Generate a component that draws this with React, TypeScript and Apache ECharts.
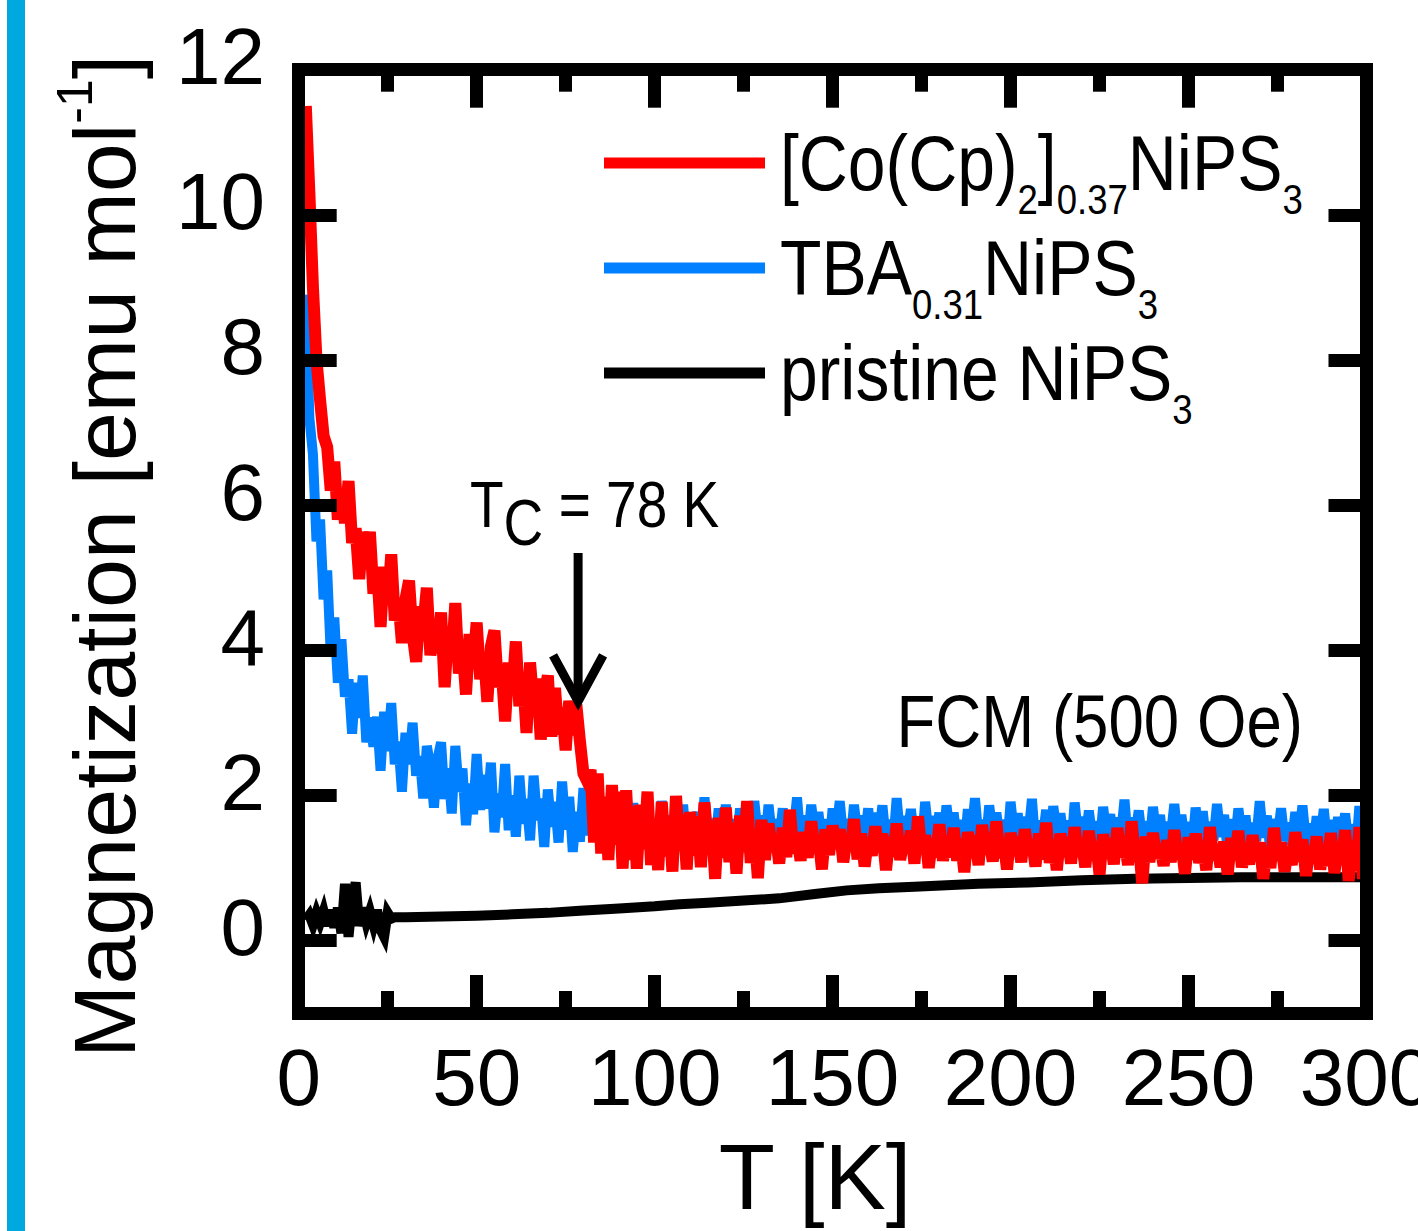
import React, { useEffect, useRef } from "react";
import * as echarts from "echarts";

// Temperature sweep shared by the two intercalated samples (K)
const tempK = [
  2, 3, 4, 5, 6, 7, 8, 9, 10, 11,
  12, 13, 14, 15, 16, 17, 18, 19, 20, 21,
  22, 23, 24, 25, 26, 27, 28, 29, 30, 31,
  32, 33, 34, 35, 36, 37, 38, 39, 40, 41,
  42, 43, 44, 45, 46, 47, 48, 49, 50, 51,
  52, 53, 54, 55, 56, 57, 58, 59, 60, 61,
  62, 63, 64, 65, 66, 67, 68, 69, 70, 71,
  72, 73, 74, 75, 76, 77, 78, 79, 80, 81,
  82, 83, 84, 85, 86, 87, 88, 89, 90, 91,
  92, 93, 94, 95, 96, 97, 98, 99, 100, 101,
  102, 103, 104, 105, 106, 107, 108, 109, 110, 111,
  112, 113, 114, 115, 116, 117, 118, 119, 120, 121,
  122, 123, 124, 125, 126, 127, 128, 129, 130, 131,
  132, 133, 134, 135, 136, 137, 138, 139, 140, 141,
  142, 143, 144, 145, 146, 147, 148, 149, 150, 151,
  152, 153, 154, 155, 156, 157, 158, 159, 160, 161,
  162, 163, 164, 165, 166, 167, 168, 169, 170, 171,
  172, 173, 174, 175, 176, 177, 178, 179, 180, 181,
  182, 183, 184, 185, 186, 187, 188, 189, 190, 191,
  192, 193, 194, 195, 196, 197, 198, 199, 200, 201,
  202, 203, 204, 205, 206, 207, 208, 209, 210, 211,
  212, 213, 214, 215, 216, 217, 218, 219, 220, 221,
  222, 223, 224, 225, 226, 227, 228, 229, 230, 231,
  232, 233, 234, 235, 236, 237, 238, 239, 240, 241,
  242, 243, 244, 245, 246, 247, 248, 249, 250, 251,
  252, 253, 254, 255, 256, 257, 258, 259, 260, 261,
  262, 263, 264, 265, 266, 267, 268, 269, 270, 271,
  272, 273, 274, 275, 276, 277, 278, 279, 280, 281,
  282, 283, 284, 285, 286, 287, 288, 289, 290, 291,
  292, 293, 294, 295, 296, 297, 298, 299, 300,
];

// [Co(Cp)2]0.37NiPS3, emu/mol
const magCoCp = [
  11.5, 10.3, 9.0, 8.0, 7.45, 6.95, 6.8, 6.2, 6.6, 5.8,
  6.2, 5.75, 6.33, 5.48, 5.68, 4.98, 5.63, 5.18, 5.63, 4.78,
  5.15, 4.32, 5.15, 4.63, 5.32, 4.41, 4.7, 4.1, 4.7, 4.96,
  4.22, 3.84, 4.6, 4.35, 4.86, 3.93, 4.34, 3.96, 4.52, 3.49,
  4.26, 3.88, 4.65, 3.68, 4.06, 3.39, 4.22, 3.8, 4.38, 3.6,
  3.97, 3.29, 4.05, 4.27, 3.49, 3.75, 3.02, 3.83, 3.4, 4.12,
  3.23, 3.65, 2.86, 3.83, 3.24, 3.61, 2.77, 3.39, 3.65, 2.81,
  3.48, 2.84, 3.21, 2.62, 3.3, 2.83, 3.25, 2.75, 2.3, 2.2,
  2.35, 1.35, 2.3, 1.2, 1.98, 1.11, 2.14, 1.32, 2.05, 0.99,
  2.07, 1.11, 1.85, 0.99, 1.87, 1.26, 2.05, 1.04, 1.63, 0.97,
  1.91, 1.16, 1.7, 0.95, 1.99, 1.29, 1.74, 0.98, 1.77, 1.17,
  1.71, 1.01, 1.9, 1.25, 1.65, 0.85, 1.69, 1.14, 1.83, 1.08,
  1.62, 0.92, 1.72, 1.22, 1.92, 1.07, 1.52, 0.86, 1.66, 1.11,
  1.61, 1.26, 1.46, 1.06, 1.55, 1.15, 1.8, 1.2, 1.45, 1.1,
  1.49, 1.14, 1.64, 1.24, 1.43, 0.98, 1.53, 1.18, 1.58, 1.28,
  1.53, 1.08, 1.43, 1.23, 1.67, 1.12, 1.47, 1.02, 1.42, 1.17,
  1.57, 1.22, 1.47, 0.97, 1.42, 1.16, 1.61, 1.11, 1.41, 1.21,
  1.51, 1.06, 1.71, 1.21, 1.45, 1.0, 1.4, 1.15, 1.6, 1.1,
  1.4, 1.15, 1.55, 1.1, 1.4, 0.94, 1.49, 1.19, 1.44, 1.04,
  1.59, 1.19, 1.39, 1.09, 1.64, 1.14, 1.38, 0.98, 1.48, 1.18,
  1.43, 1.08, 1.53, 1.18, 1.38, 1.02, 1.47, 1.12, 1.62, 1.07,
  1.37, 0.97, 1.47, 1.17, 1.42, 1.06, 1.56, 1.16, 1.36, 1.01,
  1.51, 1.11, 1.36, 0.91, 1.46, 1.15, 1.4, 1.05, 1.55, 1.15,
  1.39, 1.04, 1.64, 1.14, 1.34, 0.79, 1.43, 1.08, 1.48, 1.13,
  1.33, 1.03, 1.38, 1.08, 1.52, 1.12, 1.32, 0.92, 1.42, 1.12,
  1.47, 1.07, 1.32, 0.97, 1.56, 1.11, 1.31, 1.01, 1.36, 0.91,
  1.41, 1.11, 1.51, 1.01, 1.3, 1.05, 1.45, 1.1, 1.35, 0.85,
  1.3, 1.0, 1.55, 1.1, 1.35, 0.95, 1.29, 1.04, 1.49, 1.09,
  1.39, 0.89, 1.29, 1.08, 1.43, 0.98, 1.33, 1.03, 1.48, 0.93,
  1.32, 1.07, 1.52, 0.82, 1.37, 0.96, 1.56, 0.85, 1.25,
];

// TBA0.31NiPS3, emu/mol
const magTBA = [
  8.9, 7.2, 6.7, 5.5, 5.8, 4.7, 5.1, 3.95, 4.45, 3.55,
  4.15, 3.36, 3.6, 2.85, 3.55, 3.07, 3.65, 2.73, 3.07, 2.67,
  3.08, 2.34, 3.15, 2.61, 3.27, 2.43, 2.74, 2.05, 2.86, 2.43,
  3.0, 2.27, 2.54, 1.96, 2.68, 2.4, 1.83, 2.5, 2.73, 1.95,
  2.37, 1.75, 2.68, 2.05, 2.37, 1.59, 2.16, 1.74, 2.57, 1.8,
  2.28, 1.82, 2.45, 1.49, 2.02, 1.7, 2.43, 1.52, 2.0, 1.43,
  2.27, 1.61, 1.95, 1.38, 2.27, 1.66, 1.95, 1.29, 2.08, 1.57,
  1.91, 1.35, 2.19, 1.53, 1.98, 1.22, 1.77, 1.36, 2.1, 1.45,
  1.94, 1.49, 1.73, 1.33, 1.82, 1.52, 1.96, 1.41, 1.7, 1.35,
  1.8, 1.4, 1.89, 1.49, 1.74, 1.29, 1.83, 1.43, 1.67, 1.37,
  1.92, 1.47, 1.72, 1.32, 1.77, 1.42, 1.87, 1.27, 1.67, 1.47,
  1.77, 1.37, 1.97, 1.47, 1.67, 1.32, 1.82, 1.42, 1.87, 1.37,
  1.67, 1.27, 1.82, 1.47, 1.77, 1.42, 1.92, 1.47, 1.72, 1.32,
  1.87, 1.42, 1.67, 1.37, 1.82, 1.27, 1.72, 1.47, 1.97, 1.37,
  1.72, 1.32, 1.87, 1.47, 1.77, 1.37, 1.67, 1.22, 1.82, 1.47,
  1.92, 1.42, 1.67, 1.32, 1.87, 1.47, 1.72, 1.37, 1.82, 1.27,
  1.76, 1.46, 1.86, 1.36, 1.66, 1.31, 1.96, 1.41, 1.71, 1.46,
  1.81, 1.36, 1.66, 1.26, 1.91, 1.46, 1.71, 1.41, 1.76, 1.31,
  1.86, 1.46, 1.76, 1.36, 1.66, 1.26, 1.81, 1.46, 1.96, 1.41,
  1.66, 1.31, 1.86, 1.46, 1.76, 1.41, 1.66, 1.26, 1.91, 1.46,
  1.75, 1.35, 1.7, 1.45, 1.95, 1.3, 1.65, 1.4, 1.8, 1.25,
  1.85, 1.45, 1.75, 1.4, 1.65, 1.25, 1.9, 1.45, 1.7, 1.35,
  1.79, 1.39, 1.64, 1.29, 1.84, 1.44, 1.74, 1.24, 1.69, 1.44,
  1.94, 1.34, 1.69, 1.44, 1.79, 1.39, 1.64, 1.29, 1.84, 1.44,
  1.73, 1.23, 1.63, 1.43, 1.88, 1.38, 1.73, 1.33, 1.63, 1.28,
  1.83, 1.43, 1.78, 1.33, 1.63, 1.38, 1.88, 1.43, 1.73, 1.23,
  1.67, 1.32, 1.82, 1.42, 1.72, 1.27, 1.62, 1.37, 1.92, 1.42,
  1.72, 1.22, 1.67, 1.42, 1.82, 1.37, 1.62, 1.32, 1.77, 1.42,
  1.86, 1.36, 1.61, 1.26, 1.71, 1.41, 1.81, 1.31, 1.66, 1.21,
  1.7, 1.4, 1.75, 1.3, 1.6, 1.2, 1.85, 1.35, 1.6,
];

// pristine NiPS3
const tempPristine = [
  2, 3, 4, 5, 6, 7, 8, 9, 10, 11, 12, 13, 14, 15, 16, 17, 18, 19, 20, 21,
  22, 23, 24, 25, 26, 27, 30, 40, 50, 60, 70, 79, 90, 100, 107, 115, 125,
  135, 145, 154, 163, 173, 182, 191, 205, 220, 235, 250, 265, 280, 300,
];
const magPristine = [
  0.28, 0.35, 0.22, 0.38, 0.25, 0.4, 0.2, 0.42, 0.18, 0.45, 0.1, 0.78, 0.05,
  0.55, 0.8, 0.2, 0.45, 0.25, 0.4, 0.22, 0.42, 0.15, 0.05, 0.38, 0.3, 0.32,
  0.32, 0.33, 0.34, 0.36, 0.38, 0.41, 0.44, 0.47, 0.5, 0.52, 0.55, 0.58,
  0.64, 0.69, 0.72, 0.74, 0.76, 0.78, 0.8, 0.83, 0.85, 0.86, 0.87, 0.87,
  0.87,
];

const yTickValues = [0, 2, 4, 6, 8, 10, 12];
const xMin = 0;
const xMax = 300;
const xStep = 50;
const yMin = -1;
const yMax = 12;

const curieTemp = 78.5;
const arrowFrom = 5.34;
const arrowTo = 3.24;

const COLORS = { coCp: "#ff0000", tba: "#0080ff", pristine: "#000000" };
const FONT = "'Liberation Sans', Arial, Helvetica, sans-serif";
const NARROW = 0.86;

function pair(xs: number[], ys: number[]) {
  const n = Math.min(xs.length, ys.length);
  const out: number[][] = [];
  for (let i = 0; i < n; i++) out.push([xs[i], ys[i]]);
  return out;
}

export default function App() {
  const ref = useRef<HTMLDivElement>(null);

  useEffect(() => {
    if (!ref.current) return;
    const chart = echarts.init(ref.current, null, { renderer: "svg" });

    const lineStyleAxis = { color: "#000", width: 13, cap: "square" };
    const tickStyle = { color: "#000", width: 13 };

    const xCommon: any = {
      type: "value",
      min: xMin,
      max: xMax,
      interval: xStep,
      z: 6,
      splitLine: { show: false },
      minorSplitLine: { show: false },
      axisLine: { show: true, onZero: false, lineStyle: lineStyleAxis },
      axisTick: { show: true, inside: true, length: 38, lineStyle: tickStyle },
      minorTick: { show: true, splitNumber: 2, length: 22, lineStyle: tickStyle },
      nameMoveOverlap: false,
    };
    const yCommon: any = {
      type: "value",
      min: yMin,
      max: yMax,
      interval: 1,
      z: 6,
      splitLine: { show: false },
      axisLine: { show: true, onZero: false, lineStyle: lineStyleAxis },
      axisTick: {
        show: true,
        inside: true,
        length: 38,
        lineStyle: tickStyle,
        customValues: yTickValues,
      },
      nameMoveOverlap: false,
    };

    const txt = (size: number, lh: number) => ({
      fontSize: size,
      lineHeight: lh,
      fontFamily: FONT,
      fill: "#000",
    });
    const subStyle = (size: number, padTop: number) => ({
      fontSize: size,
      fontFamily: FONT,
      fill: "#000",
      padding: [padTop, 0, 0, 0],
    });
    const legendText = (id: string, y: number, text: string) => ({
      id,
      type: "text",
      x: 780,
      y,
      scaleX: 0.87,
      style: {
        text,
        x: 0,
        y: 0,
        align: "left",
        verticalAlign: "middle",
        fontFamily: FONT,
        fontSize: 78,
        fill: "#000",
        rich: { m: txt(78, 130), s: subStyle(42, 73) },
      },
    });

    const staticGraphics: any[] = [
      {
        id: "sidebar",
        type: "rect",
        shape: { x: 7, y: 0, width: 18, height: 1231 },
        style: { fill: "#00a8e0" },
        silent: true,
      },
      {
        id: "lg1",
        type: "line",
        shape: { x1: 604, y1: 163, x2: 765, y2: 163 },
        style: { stroke: COLORS.coCp, lineWidth: 11 },
      },
      {
        id: "lg2",
        type: "line",
        shape: { x1: 604, y1: 268, x2: 765, y2: 268 },
        style: { stroke: COLORS.tba, lineWidth: 11 },
      },
      {
        id: "lg3",
        type: "line",
        shape: { x1: 604, y1: 373, x2: 765, y2: 373 },
        style: { stroke: COLORS.pristine, lineWidth: 11 },
      },
      legendText("lt1", 163, "{m|[Co(Cp)}{s|2}{m|]}{s|0.37}{m|NiPS}{s|3}"),
      legendText("lt2", 268, "{m|TBA}{s|0.31}{m|NiPS}{s|3}"),
      legendText("lt3", 373, "{m|pristine NiPS}{s|3}"),
      {
        id: "tc",
        type: "text",
        x: 470,
        y: 505,
        scaleX: NARROW,
        style: {
          text: "{m|T}{c|C}{m| = 78 K}",
          x: 0,
          y: 0,
          align: "left",
          verticalAlign: "middle",
          fontFamily: FONT,
          fontSize: 64,
          fill: "#000",
          rich: { m: txt(64, 110), c: subStyle(64, 37) },
        },
      },
      {
        id: "fcm",
        type: "text",
        x: 1303,
        y: 722,
        scaleX: NARROW,
        style: {
          text: "FCM (500 Oe)",
          x: 0,
          y: 0,
          align: "right",
          verticalAlign: "middle",
          fontFamily: FONT,
          fontSize: 74,
          fill: "#000",
        },
      },
    ];

    const option: any = {
      animation: false,
      backgroundColor: "#ffffff",
      textStyle: { fontFamily: FONT, color: "#000" },
      grid: {
        left: 298.7,
        top: 69.7,
        right: 51.5,
        bottom: 218,
        containLabel: false,
        outerBoundsMode: "none",
        show: false,
      },
      xAxis: [
        {
          ...xCommon,
          position: "bottom",
          name: "T [K]",
          nameLocation: "middle",
          nameGap: 118,
          nameTextStyle: {
            fontFamily: FONT,
            fontSize: 92,
            lineHeight: 92,
            color: "#000",
            padding: [0, 35, 0, 0],
          },
          axisLabel: {
            show: true,
            fontFamily: FONT,
            fontSize: 80,
            lineHeight: 80,
            color: "#000",
            margin: 24,
            showMinLabel: true,
            showMaxLabel: true,
            hideOverlap: false,
          },
        },
        {
          ...xCommon,
          position: "top",
          axisLabel: { show: false },
        },
      ],
      yAxis: [
        {
          ...yCommon,
          position: "left",
          name: "{m|Magnetization [emu mol}{sup|-1}{m|]}",
          nameLocation: "middle",
          nameRotate: 90,
          nameGap: 129,
          nameTextStyle: {
            fontFamily: FONT,
            fontSize: 88,
            lineHeight: 130,
            color: "#000",
            padding: [0, 30, 0, 0],
            rich: {
              m: { fontFamily: FONT, fontSize: 88, lineHeight: 130, color: "#000" },
              sup: {
                fontFamily: FONT,
                fontSize: 50,
                color: "#000",
                padding: [0, 0, 60, 0],
              },
            },
          },
          axisLabel: {
            show: true,
            customValues: yTickValues,
            fontFamily: FONT,
            fontSize: 80,
            lineHeight: 26,
            verticalAlign: "bottom",
            color: "#000",
            margin: 33.7,
            showMinLabel: true,
            showMaxLabel: true,
            hideOverlap: false,
          },
        },
        {
          ...yCommon,
          position: "right",
          axisLabel: { show: false },
        },
      ],
      series: [
        {
          name: "pristine NiPS3",
          type: "line",
          xAxisIndex: 0,
          yAxisIndex: 0,
          data: pair(tempPristine, magPristine),
          showSymbol: false,
          symbol: "none",
          z: 2,
          lineStyle: { color: COLORS.pristine, width: 10, join: "miter", miterLimit: 4 },
        },
        {
          name: "TBA0.31NiPS3",
          type: "line",
          xAxisIndex: 0,
          yAxisIndex: 0,
          data: pair(tempK, magTBA),
          showSymbol: false,
          symbol: "none",
          z: 3,
          lineStyle: { color: COLORS.tba, width: 10, join: "miter", miterLimit: 5 },
        },
        {
          name: "[Co(Cp)2]0.37NiPS3",
          type: "line",
          xAxisIndex: 0,
          yAxisIndex: 0,
          data: pair(tempK, magCoCp),
          showSymbol: false,
          symbol: "none",
          z: 4,
          lineStyle: { color: COLORS.coCp, width: 12, join: "miter", miterLimit: 5 },
        },
      ],
      graphic: staticGraphics,
    };

    chart.setOption(option);

    const top = chart.convertToPixel({ gridIndex: 0 }, [curieTemp, arrowFrom]) as number[];
    const tip = chart.convertToPixel({ gridIndex: 0 }, [curieTemp, arrowTo]) as number[];
    if (top && tip) {
      chart.setOption({
        graphic: [
          ...staticGraphics,
          {
            id: "arrowStem",
            type: "line",
            z: 50,
            shape: { x1: top[0], y1: top[1], x2: tip[0], y2: tip[1] - 4 },
            style: { stroke: "#000", lineWidth: 9 },
          },
          {
            id: "arrowHead",
            type: "polyline",
            z: 50,
            shape: {
              points: [
                [tip[0] - 25, tip[1] - 50],
                [tip[0], tip[1] - 4],
                [tip[0] + 25, tip[1] - 50],
              ],
            },
            style: { stroke: "#000", lineWidth: 9, lineJoin: "miter", fill: null },
          },
        ],
      });
    }

    return () => {
      chart.dispose();
    };
  }, []);

  return (
    <div
      ref={ref}
      style={{ position: "absolute", left: 0, top: 0, width: 1418, height: 1231 }}
    />
  );
}
